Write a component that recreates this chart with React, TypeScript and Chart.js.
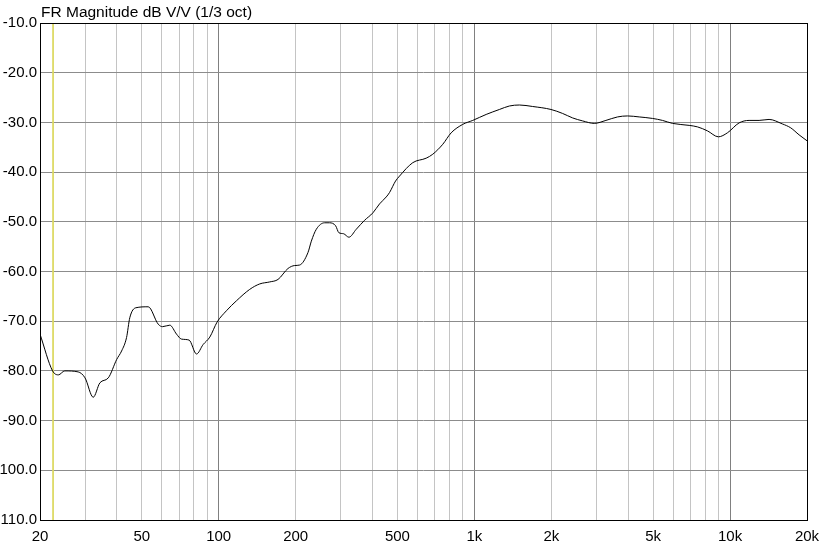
import React, { useEffect, useRef } from "react";
import { Chart, registerables } from "chart.js";

Chart.register(...registerables);

const TITLE = "FR Magnitude dB V/V (1/3 oct)";

const freqHz = [
  20, 22.4, 23.6, 25.0, 28.2, 30.0, 32.3, 34.3, 37.0, 39.9, 41.7, 43.6, 44.9, 47.4, 53.0,
  58.0, 60.3, 64.4, 68.4, 71.5, 76.6, 81.9, 86.9, 92.3, 98.5, 107.2, 117.3,
  132.2, 144.7, 158.3, 170.6, 186.6, 198.2, 207.3, 223.4, 230.3, 240.9, 259.6, 271.5,
  286.6, 295.2, 307.9, 323.0, 345.2, 372.0, 400.9, 425.7, 452.2, 465.9, 491.7,
  509.7, 574.3, 647.9, 687.6, 752.4, 811.3, 900.4, 985.4, 1112, 1253, 1371, 1500,
  1690, 1994, 2214, 2423, 2651, 2944, 3270, 3631, 3972, 4414, 4974, 5443, 5956,
  6921, 7456, 8157, 9005, 9765, 10850, 11870, 12990, 14210, 16010, 17280, 18620, 20000,
];

const magnitudeDb = [
  -72.6, -80.0, -80.8, -80.0, -80.2, -81.4, -85.3, -82.4, -81.4, -77.7, -76.0, -73.3, -69.3, -67.3, -67.1,
  -70.6, -71.1, -70.8, -72.6, -73.6, -73.8, -76.6, -74.7, -73.2, -70.2, -67.9, -65.9,
  -63.6, -62.5, -62.1, -61.6, -59.4, -58.8, -58.7, -56.2, -53.9, -51.5, -50.2, -50.2,
  -50.8, -52.2, -52.4, -53.1, -51.5, -49.7, -48.2, -46.4, -45.0, -44.1, -41.8,
  -40.8, -38.1, -37.2, -36.4, -34.4, -32.1, -30.4, -29.6, -28.4, -27.4, -26.7, -26.5,
  -26.8, -27.4, -28.2, -29.1, -29.7, -30.2, -29.6, -28.9, -28.7, -28.9, -29.2, -29.6, -30.2,
  -30.6, -30.9, -31.7, -32.9, -32.1, -30.1, -29.6, -29.6, -29.4, -30.3, -31.1, -32.5, -33.7,
];

const markerHz = 22.5;

const xGridHz = [
  20, 30, 40, 50, 60, 70, 80, 90, 100, 200, 300, 400, 500, 600, 700, 800, 900,
  1000, 2000, 3000, 4000, 5000, 6000, 7000, 8000, 9000, 10000, 20000,
];
const xMajorHz = [100, 1000, 10000];
const xLabelHz = [20, 50, 100, 200, 500, 1000, 2000, 5000, 10000, 20000];
const xLabelText = ["20", "50", "100", "200", "500", "1k", "2k", "5k", "10k", "20k"];

const yTickDb = [-10, -20, -30, -40, -50, -60, -70, -80, -90, -100, -110];
const yLabelText = ["-10.0", "-20.0", "-30.0", "-40.0", "-50.0", "-60.0", "-70.0", "-80.0", "-90.0", "100.0", "110.0"];

const FONT = "'Liberation Sans', Arial, sans-serif";

export default function App() {
  const ref = useRef<HTMLCanvasElement | null>(null);

  useEffect(() => {
    const canvas = ref.current;
    if (!canvas) return;

    const framePlugin = {
      id: "frame",
      afterDraw(chart: any) {
        const { ctx, chartArea } = chart;
        ctx.save();
        ctx.strokeStyle = "#000000";
        ctx.lineWidth = 1;
        ctx.strokeRect(
          Math.round(chartArea.left) + 0.5,
          Math.round(chartArea.top) + 0.5,
          Math.round(chartArea.right - chartArea.left),
          Math.round(chartArea.bottom - chartArea.top)
        );
        ctx.fillStyle = "#000000";
        ctx.font = `15.5px ${FONT}`;
        ctx.textBaseline = "alphabetic";
        ctx.textAlign = "left";
        ctx.fillText(TITLE, chartArea.left + 1, 17);
        ctx.restore();
      },
    };

    const chart = new Chart(canvas, {
      type: "line",
      data: {
        datasets: [
          {
            data: freqHz.map((f, i) => ({ x: f, y: magnitudeDb[i] })),
            borderColor: "#000000",
            borderWidth: 1,
            pointRadius: 0,
            cubicInterpolationMode: "monotone",
            fill: false,
            order: 1,
          },
          {
            data: [
              { x: markerHz, y: -10 },
              { x: markerHz, y: -110 },
            ],
            borderColor: "#dcd860",
            borderWidth: 1,
            pointRadius: 0,
            fill: false,
            order: 2,
          },
        ],
      },
      options: {
        responsive: false,
        animation: false,
        events: [],
        layout: { padding: { top: 23, right: 17, left: 0, bottom: 0 } },
        plugins: {
          legend: { display: false },
          title: { display: false },
          tooltip: { enabled: false },
        },
        scales: {
          x: {
            type: "logarithmic",
            min: 20,
            max: 20000,
            afterBuildTicks: (scale: any) => {
              scale.ticks = xGridHz.map((v) => ({ value: v }));
            },
            afterFit: (scale: any) => {
              scale.height = 28;
              scale.paddingLeft = 0;
              scale.paddingRight = 0;
            },
            border: { display: false },
            grid: {
              drawTicks: false,
              lineWidth: 1,
              color: (ctx: any) =>
                ctx.tick && xMajorHz.includes(ctx.tick.value) ? "#808080" : "#c4c4c4",
            },
            ticks: {
              autoSkip: false,
              maxRotation: 0,
              padding: 8,
              color: "#000000",
              font: { family: FONT, size: 15 },
              callback: (value: any) => {
                const idx = xLabelHz.indexOf(Number(value));
                return idx >= 0 ? xLabelText[idx] : "";
              },
            },
          },
          y: {
            type: "linear",
            min: -110,
            max: -10,
            afterBuildTicks: (scale: any) => {
              scale.ticks = yTickDb.map((v) => ({ value: v }));
            },
            afterFit: (scale: any) => {
              scale.width = 40;
              scale.paddingTop = 0;
              scale.paddingBottom = 0;
            },
            border: { display: false },
            grid: {
              drawTicks: false,
              lineWidth: 1,
              color: "#8c8c8c",
            },
            ticks: {
              autoSkip: false,
              padding: 3,
              color: "#000000",
              font: { family: FONT, size: 15 },
              callback: (value: any) => {
                const idx = yTickDb.indexOf(Number(value));
                return idx >= 0 ? yLabelText[idx] : "";
              },
            },
          },
        },
      },
      plugins: [framePlugin],
    } as any);

    return () => chart.destroy();
  }, []);

  return (
    <div style={{ position: "fixed", left: 0, top: 0, width: 824, height: 548, background: "#ffffff" }}>
      <canvas ref={ref} width={824} height={548} style={{ display: "block", width: 824, height: 548 }} />
    </div>
  );
}
